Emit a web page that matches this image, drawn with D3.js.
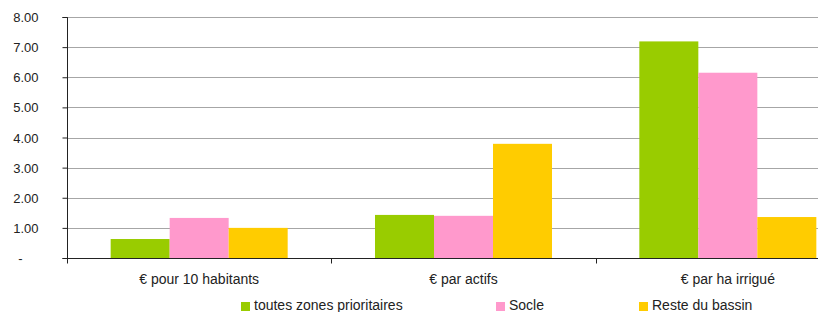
<!DOCTYPE html>
<html><head><meta charset="utf-8">
<script src="https://cdn.jsdelivr.net/npm/d3@7"></script>
<style>body{margin:0;background:#fff}svg{display:block;font-family:"Liberation Sans",Arial,sans-serif}</style>
</head><body><svg id="c" width="818" height="312"></svg>
<script>
const categories = ["€ pour 10 habitants", "€ par actifs", "€ par ha irrigué"];
const seriesNames = ["toutes zones prioritaires", "Socle", "Reste du bassin"];
const toutesZones = [0.63, 1.43, 7.19];
const socle = [1.33, 1.40, 6.15];
const resteBassin = [1.00, 3.79, 1.36];
const yTicks = [0, 1, 2, 3, 4, 5, 6, 7, 8];
const colors = ["#99CC00", "#FF99CC", "#FFCC00"];
const seriesValues = [toutesZones, socle, resteBassin];

const svg = d3.select("#c");
const mLeft = 67, mTop = 17, mBottom = 258, mRight = 860;
const x = d3.scaleBand().domain(categories).range([mLeft, mRight]).paddingInner(0).paddingOuter(0);
const xs = d3.scaleBand().domain(seriesNames).range([0, x.bandwidth()]).paddingInner(0).paddingOuter(0.74);
const y = d3.scaleLinear().domain([0, 8]).range([mBottom, mTop]);

// gridlines
svg.append("g").selectAll("line").data(yTicks.filter(d => d > 0)).join("line")
  .attr("x1", mLeft).attr("x2", mRight).attr("y1", d => Math.round(y(d)) + 0.5).attr("y2", d => Math.round(y(d)) + 0.5)
  .attr("stroke", "#a6a6a6").attr("stroke-width", 1);

// bars
const g = svg.append("g");
seriesNames.forEach((s, i) => {
  g.append("g").selectAll("rect").data(categories).join("rect")
    .attr("x", c => x(c) + xs(s)).attr("width", xs.bandwidth())
    .attr("y", (c, j) => y(seriesValues[i][j])).attr("height", (c, j) => mBottom - y(seriesValues[i][j]))
    .attr("fill", colors[i]);
});

// y axis
const yAxis = d3.axisLeft(y).tickValues(yTicks).tickSize(5).tickPadding(24)
  .tickFormat(d => d === 0 ? "-" : d3.format(".2f")(d));
const ya = svg.append("g").attr("transform", `translate(${mLeft + 0.5},0)`).call(yAxis);
ya.select(".domain").attr("stroke", "#222").attr("d", `M-5,${mTop + 0.5}H0V${mBottom + 0.5}H-5`);
ya.selectAll(".tick line").attr("stroke", "#222");
ya.selectAll(".tick text").attr("font-size", 13).attr("fill", "#222").attr("font-family", '"Liberation Sans",Arial,sans-serif')
  .attr("dx", d => d === 0 ? -16 : 0).attr("dy", "0.35em");

// x axis
const xAxis = d3.axisBottom(x).tickSize(0).tickPadding(16);
const xa = svg.append("g").attr("transform", `translate(0,${mBottom + 0.5})`).call(xAxis);
xa.select(".domain").attr("stroke", "#222").attr("d", `M${mLeft},0H${mRight}`);
xa.selectAll(".tick text").attr("font-size", 14).attr("fill", "#222").attr("font-family", '"Liberation Sans",Arial,sans-serif');
// category separator ticks
const seps = categories.map(c => x(c)).concat([mRight]);
xa.append("g").selectAll("line").data(seps).join("line")
  .attr("x1", d => Math.round(d) + 0.5).attr("x2", d => Math.round(d) + 0.5).attr("y1", 0).attr("y2", 5).attr("stroke", "#222");

// legend
const legendX = [241, 496, 639];
const lg = svg.append("g");
seriesNames.forEach((s, i) => {
  lg.append("rect").attr("x", legendX[i]).attr("y", 302).attr("width", 9).attr("height", 9).attr("fill", colors[i]);
  lg.append("text").attr("x", legendX[i] + 13).attr("y", 310).attr("font-size", 14).attr("fill", "#222").text(s);
});
</script></body></html>
